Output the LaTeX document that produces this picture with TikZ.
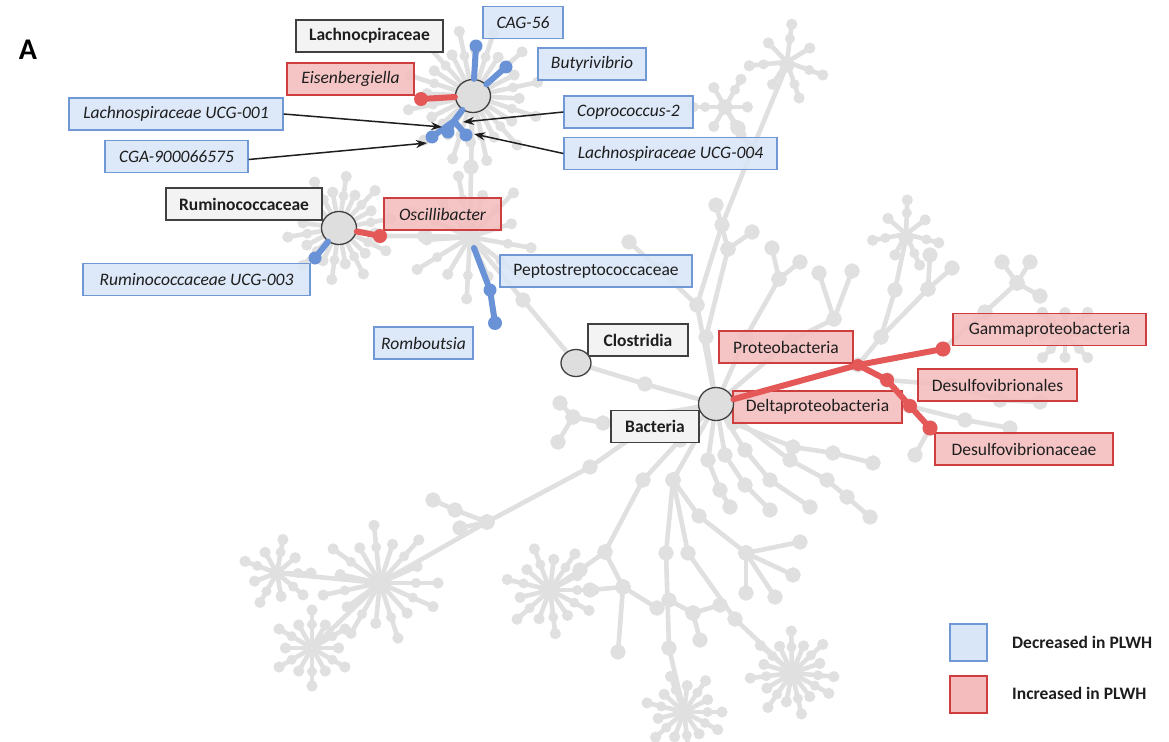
\documentclass[tikz,border=0pt]{standalone}
\usepackage{fontspec}
\setmainfont{Carlito}
\usetikzlibrary{arrows.meta,calc,shapes.geometric}
\definecolor{tree}{RGB}{224,224,224}
\definecolor{bl}{RGB}{106,146,214}
\definecolor{rd}{RGB}{228,88,88}
\definecolor{blfill}{RGB}{216,230,247}
\definecolor{bldraw}{RGB}{112,152,212}
\definecolor{rdfill}{RGB}{244,188,188}
\definecolor{rddraw}{RGB}{206,62,62}
\definecolor{gyfill}{RGB}{243,243,243}
\definecolor{gydraw}{RGB}{64,64,64}
\definecolor{circfill}{RGB}{222,222,222}
\definecolor{txt}{RGB}{30,30,30}
\tikzset{
 gl/.style={draw=tree, line width=4.6pt, line cap=round, line join=round},
 lab/.style={rectangle, minimum height=32pt, inner sep=0pt, line width=1.2pt, text=txt,
   font=\fontsize{17.5}{20}\selectfont},
 dec/.style={lab, fill=blfill, fill opacity=0.85, text opacity=1, draw=bldraw},
 inc/.style={lab, fill=rdfill, fill opacity=0.85, text opacity=1, draw=rddraw},
 taxon/.style={lab, fill=gyfill, draw=gydraw, font=\fontsize{17.5}{20}\selectfont\bfseries},
 hubc/.style={ellipse, fill=circfill, draw=gydraw, line width=1.3pt, inner sep=0pt},
 bline/.style={draw=bl, line width=6pt, line cap=round, line join=round},
 rline/.style={draw=rd, line width=6pt, line cap=round, line join=round},
 arr/.style={draw=txt, line width=1.5pt, -{Stealth[length=11pt,width=8pt]}},
 legtxt/.style={anchor=west, inner sep=0pt, text=txt, font=\fontsize{17.5}{20}\selectfont\bfseries}
}
\newcommand\gpath[1]{\draw[gl] plot[mark=*, mark size=5.4pt, mark options={fill=tree, draw=none, solid}] coordinates {#1};}
\newcommand\grstar[5]{%
  \foreach \k in {1,...,#4}{%
    \pgfmathsetmacro\aa{#5+360*\k/#4}%
    \pgfmathsetmacro\ll{#3*(0.7+0.3*mod(\k,2))}%
    \draw[gl] (#1,#2) -- ++(\aa:\ll);%
    \fill[tree] (#1,#2) ++(\aa:\ll) circle (5.6pt);%
    \ifodd\k\fill[tree] (#1,#2) ++(\aa:{0.62*\ll}) circle (5pt);\fi%
  }}
\begin{document}
\begin{tikzpicture}[x=1pt,y=-1pt]
\fill[white] (0,0) rectangle (1169,741);
\useasboundingbox (0,0) rectangle (1169,741);
% ---------------- gray tree ----------------
\gpath{(716,404) (645,384) (576,363)}
\gpath{(576,363) (523,300) (470,237)}
\gpath{(470,237) (471,167) (473,96)}
\gpath{(470,237) (425,236) (379,236)}
\grstar{473}{96}{66}{24}{3}
\grstar{339}{228}{52}{20}{8}
\grstar{470}{237}{62}{13}{10}
% upper right
\gpath{(716,404) (697,305) (722,225) (752,150) (787,65)}
\gpath{(752,150) (738,128) (725,107)}
\grstar{787}{62}{38}{7}{20}
\grstar{725}{107}{32}{6}{0}
\gpath{(697,305) (660,270) (629,242)}
\gpath{(716,404) (706,337) (728,249) (716,205)}
\gpath{(728,249) (752,232)}
\gpath{(716,404) (746,337) (779,279) (772,248)}
\gpath{(779,279) (800,262)}
\gpath{(716,404) (790,341) (834,319) (819,273)}
\gpath{(834,319) (852,271)}
\gpath{(858,365) (881,337) (895,290) (906,238)}
\grstar{906}{234}{34}{7}{15}
\gpath{(881,337) (928,289) (930,255)}
\gpath{(928,289) (952,268)}
\gpath{(943,349) (985,312) (1017,283) (1002,262)}
\gpath{(1017,283) (1030,262)}
\gpath{(1017,283) (1040,296)}
\grstar{1065}{335}{32}{8}{0}
\gpath{(887,380) (950,385) (1000,400) (1040,402)}
\gpath{(909,406) (965,420) (1010,428)}
\gpath{(930,428) (915,455)}
% lower right fans
\gpath{(716,404) (733,423) (793,447) (833,453) (873,463)}
\gpath{(716,404) (790,460) (827,480) (847,497) (870,517)}
\gpath{(716,404) (745,450) (770,480) (810,507)}
\gpath{(716,404) (725,455) (745,485) (770,510)}
\gpath{(716,404) (708,460) (720,490) (730,507)}
% down
\gpath{(716,404) (673,480) (666,553) (669,648) (684,712)}
\grstar{684}{712}{38}{13}{0}
\gpath{(673,480) (688,553) (735,619) (792,673)}
\grstar{792}{673}{42}{15}{5}
\gpath{(673,480) (699,516) (746,553) (800,542)}
\gpath{(746,553) (793,575)}
\gpath{(746,553) (775,597)}
\gpath{(746,553) (746,593)}
\gpath{(669,600) (693,613) (720,605)}
\gpath{(693,613) (700,640)}
% lower left
\gpath{(716,404) (650,425) (590,467) (487,522) (380,583)}
\gpath{(487,522) (455,510) (433,500)}
\gpath{(487,522) (460,528)}
\grstar{380}{583}{58}{15}{0}
\gpath{(380,583) (277,573)}
\grstar{277}{573}{34}{9}{0}
\gpath{(380,583) (312,648)}
\grstar{312}{648}{38}{12}{0}
\gpath{(716,404) (680,440) (643,480) (605,552) (580,570) (550,590)}
\grstar{550}{590}{44}{13}{0}
\gpath{(605,552) (623,587) (590,590)}
\gpath{(623,587) (657,608)}
\gpath{(623,587) (618,652)}
\gpath{(716,404) (603,423) (573,417) (560,403)}
\gpath{(573,417) (558,442)}
% ---------------- labels ----------------
\node[taxon, minimum width=147pt] (lachno) at (369.5,36) {Lachnocpiraceae};
\node[dec, minimum width=80pt] (cag) at (523,22.5) {\itshape CAG-56};
\node[dec, minimum width=108pt] (butyr) at (592,64) {\itshape Butyrivibrio};
\node[inc, minimum width=127pt] (eisen) at (350.5,79) {\itshape Eisenbergiella};
\node[dec, minimum width=129pt] (copro) at (628.5,112) {\itshape Coprococcus-2};
\node[dec, minimum width=214pt] (ucg001) at (176,114) {\itshape Lachnospiraceae UCG-001};
\node[dec, minimum width=143pt] (cga) at (176.5,156.5) {\itshape CGA-900066575};
\node[dec, minimum width=213pt] (ucg004) at (670.5,153.5) {\itshape Lachnospiraceae UCG-004};
\node[taxon, minimum width=156pt] (rumino) at (244,204) {Ruminococcaceae};
\node[inc, minimum width=117pt] (oscill) at (442.5,214) {\itshape Oscillibacter};
\node[dec, minimum width=227pt] (ucg003) at (196.5,279.5) {\itshape Ruminococcaceae UCG-003};
\node[dec, minimum width=192pt] (pepto) at (596,271) {Peptostreptococcaceae};
\node[dec, minimum width=99pt] (rombo) at (423.5,343) {\itshape Romboutsia};
\node[taxon, minimum width=100pt] (clost) at (638,340) {Clostridia};
\node[inc, minimum width=134pt] (proteo) at (786,347) {Proteobacteria};
\node[inc, minimum width=193pt] (gamma) at (1049.5,329.5) {Gammaproteobacteria};
\node[inc, minimum width=159pt] (desulfo) at (997.5,385) {Desulfovibrionales};
\node[inc, minimum width=169pt] (delta) at (817.5,407) {Deltaproteobacteria};
\node[taxon, minimum width=88pt] (bact) at (655,426.5) {Bacteria};
\node[inc, minimum width=178pt] (desulfa) at (1024,449) {Desulfovibrionaceae};
% ---------------- hub circles ----------------
\node[hubc, minimum width=35pt, minimum height=33pt] (cL) at (473,96) {};
\node[hubc, minimum width=35pt, minimum height=33pt] (cR) at (339,228) {};
\node[hubc, minimum width=30pt, minimum height=27pt] (cC) at (576,363) {};
\node[hubc, minimum width=35pt, minimum height=33pt] (cB) at (716,404) {};
% ---------------- coloured edges ----------------
\coordinate (cagt) at (476,46);
\coordinate (buty) at (506,67);
\coordinate (eis) at (421,99);
\coordinate (bj) at (454,121);
\coordinate (b1) at (432,137);
\coordinate (b2) at (448,132);
\coordinate (b3) at (466,135);
\draw[bline] (cL) -- (cagt);
\draw[bline] (cL) -- (buty);
\draw[rline] (cL) -- (eis);
\draw[bline] (cL) -- (bj) -- (b1);
\draw[bline] (bj) -- (b2);
\draw[bline] (bj) -- (b3);
\foreach \p in {cagt,buty,b1,b2,b3} \fill[bl] (\p) circle (6.5pt);
\fill[rd] (eis) circle (7pt);
\coordinate (osc) at (380,236);
\coordinate (u3) at (315,258);
\draw[rline] (cR) -- (osc);
\draw[bline] (cR) -- (u3);
\fill[rd] (osc) circle (7pt);
\fill[bl] (u3) circle (6.5pt);
\coordinate (pst) at (474,248);
\coordinate (pep) at (490,290);
\coordinate (rom) at (495,323);
\draw[bline] (pst) -- (pep) -- (rom);
\fill[bl] (pep) circle (6.5pt);
\fill[bl] (rom) circle (7pt);
\coordinate (pn) at (858,365);
\coordinate (gm) at (943,349);
\coordinate (dl) at (887,380);
\coordinate (dv) at (910,406);
\coordinate (df) at (930,428);
\draw[rline] (cB) -- (pn) -- (gm);
\draw[rline] (pn) -- (dl) -- (dv) -- (df);
\fill[rd] (pn) circle (6pt);
\fill[rd] (gm) circle (7.5pt);
\fill[rd] (dl) circle (7pt);
\fill[rd] (dv) circle (7pt);
\fill[rd] (df) circle (7.5pt);
% ---------------- arrows ----------------
\coordinate (a1) at (442,127);
\coordinate (a2) at (427,143);
\coordinate (a3) at (463,122);
\coordinate (a4) at (474,134);
\draw[arr] (ucg001.east) -- (a1);
\draw[arr] ([yshift=-3pt]cga.east) -- (a2);
\draw[arr] (copro.west) -- (a3);
\draw[arr] (ucg004.west) -- (a4);
% ---------------- panel letter and legend ----------------
\node[inner sep=0pt, text=black, font=\fontsize{30}{32}\selectfont\bfseries] (panelA) at (28,50) {A};
\node[lab, fill=blfill, draw=bldraw, minimum width=37pt, minimum height=37pt] (legdec) at (968.5,642.5) {};
\node[lab, fill=rdfill, draw=rddraw, minimum width=37pt, minimum height=37pt] (leginc) at (968.5,694.5) {};
\node[legtxt] (legdect) at (1012,642) {Decreased in PLWH};
\node[legtxt] (legincx) at (1012,693) {Increased in PLWH};
\end{tikzpicture}
\end{document}
